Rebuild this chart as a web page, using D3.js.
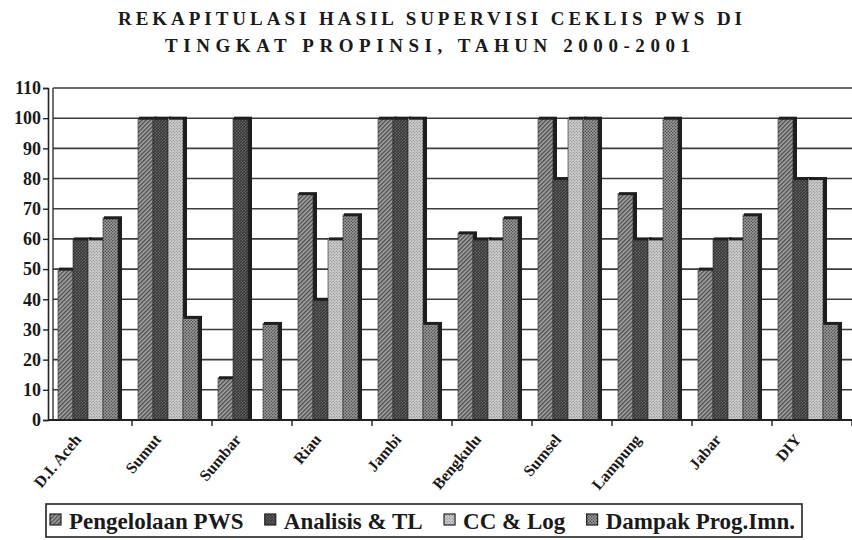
<!DOCTYPE html>
<html>
<head>
<meta charset="utf-8">
<script src="https://cdn.jsdelivr.net/npm/d3@7"></script>
<style>
  body { margin: 0; background: #fff; }
  svg { display: block; }
  text { font-family: "Liberation Serif", "DejaVu Serif", serif; font-weight: bold; fill: #1a1a1a; }
</style>
</head>
<body>
<div id="chart"></div>
<script>
// data
var categories = ["D.I. Aceh", "Sumut", "Sumbar", "Riau", "Jambi", "Bengkulu", "Sumsel", "Lampung", "Jabar", "DIY"];
var seriesNames = ["Pengelolaan PWS", "Analisis & TL", "CC & Log", "Dampak Prog.Imn."];
var pws      = [50, 100, 14, 75, 100, 62, 100, 75, 50, 100];
var analisis = [60, 100, 100, 40, 100, 60, 80, 60, 60, 80];
var ccLog    = [60, 100, 0, 60, 100, 60, 100, 60, 60, 80];
var dampak   = [67, 34, 32, 68, 32, 67, 100, 100, 68, 32];
var yTicks = [0, 10, 20, 30, 40, 50, 60, 70, 80, 90, 100, 110];
var titleLines = ["REKAPITULASI HASIL SUPERVISI CEKLIS PWS DI", "TINGKAT PROPINSI, TAHUN 2000-2001"];

var series = [pws, analisis, ccLog, dampak];

var W = 852, H = 540;
var svg = d3.select("#chart").append("svg")
  .attr("width", W).attr("height", H);

// fill patterns (grey scan look)
var defs = svg.append("defs");
function dotPattern(id, bg, dot, size, r) {
  var p = defs.append("pattern").attr("id", id)
    .attr("patternUnits", "userSpaceOnUse")
    .attr("width", size).attr("height", size);
  p.append("rect").attr("width", size).attr("height", size).attr("fill", bg);
  p.append("circle").attr("cx", size / 4).attr("cy", size / 4).attr("r", r).attr("fill", dot);
  p.append("circle").attr("cx", size * 3 / 4).attr("cy", size * 3 / 4).attr("r", r).attr("fill", dot);
}
// hatch for PWS
var hp = defs.append("pattern").attr("id", "pat0")
  .attr("patternUnits", "userSpaceOnUse").attr("width", 3).attr("height", 3)
  .attr("patternTransform", "rotate(45)");
hp.append("rect").attr("width", 3).attr("height", 3).attr("fill", "#a8a8a8");
hp.append("rect").attr("width", 1.4).attr("height", 3).attr("fill", "#4a4a4a");
dotPattern("pat1", "#333", "#7a7a7a", 3, 0.7);
dotPattern("pat2", "#cfcfcf", "#707070", 3, 0.6);
dotPattern("pat3", "#a0a0a0", "#3c3c3c", 3, 0.75);

var margin = { top: 88, left: 53 };
var plotRight = W;
var y0 = 420;

var x = d3.scaleBand()
  .domain(categories)
  .range([50, 850])
  .paddingInner(0.2)
  .paddingOuter(0.1);

var y = d3.scaleLinear()
  .domain([0, 110])
  .range([y0, margin.top]);

var depth = 4;
var slot = (x.bandwidth() - depth) / 4;
var xs = d3.scaleBand().domain(d3.range(4)).range([0, slot * 4]);

// gridlines
svg.append("g")
  .selectAll("line")
  .data(yTicks)
  .join("line")
  .attr("x1", margin.left).attr("x2", plotRight)
  .attr("y1", function(d) { return y(d); })
  .attr("y2", function(d) { return y(d); })
  .attr("stroke", "#3c3c3c")
  .attr("stroke-width", 1.6);

// plot frame left
svg.append("line")
  .attr("x1", margin.left).attr("x2", margin.left)
  .attr("y1", y(110)).attr("y2", y0)
  .attr("stroke", "#333").attr("stroke-width", 1.4);

// y axis
var yAxis = svg.append("g")
  .attr("transform", "translate(48,0)")
  .call(d3.axisLeft(y).tickValues(yTicks).tickSize(5).tickPadding(2));
yAxis.attr("font-family", "'Liberation Serif', serif").attr("font-size", 18);
yAxis.select(".domain").attr("stroke", "#222").attr("stroke-width", 1.6);
yAxis.selectAll(".tick line").attr("stroke", "#222").attr("stroke-width", 1.4);
yAxis.selectAll("text")
  .attr("font-family", "'Liberation Serif', serif")
  .attr("font-weight", "bold")
  .style("font-size", "18px")
  .attr("fill", "#1a1a1a");

// bars
var groups = svg.append("g")
  .selectAll("g")
  .data(categories)
  .join("g")
  .attr("transform", function(d) { return "translate(" + x(d) + ",0)"; });

groups.each(function(cat, ci) {
  var g = d3.select(this);
  series.forEach(function(vals, si) {
    var v = vals[ci];
    if (v <= 0) return;
    var bx = xs(si), by = y(v), bh = y0 - by;
    // side (depth)
    g.append("rect")
      .attr("x", bx + slot).attr("y", by)
      .attr("width", depth).attr("height", bh)
      .attr("fill", "#1e1e1e");
    // face
    g.append("rect")
      .attr("x", bx).attr("y", by)
      .attr("width", slot).attr("height", bh)
      .attr("fill", "url(#pat" + si + ")")
      .attr("stroke", "#2a2a2a").attr("stroke-width", 0.6);
    // top cap
    g.append("rect")
      .attr("x", bx + 1).attr("y", by - 1.5)
      .attr("width", slot + depth - 1).attr("height", 3)
      .attr("fill", "#1e1e1e");
  });
});

// x axis baseline and ticks at group boundaries
svg.append("line")
  .attr("x1", 48).attr("x2", plotRight)
  .attr("y1", y0).attr("y2", y0)
  .attr("stroke", "#222").attr("stroke-width", 1.8);
svg.append("g")
  .selectAll("line")
  .data(categories)
  .join("line")
  .attr("x1", function(d) { return x(d) + x.step() - x.step() * 0.1 + 2; })
  .attr("x2", function(d) { return x(d) + x.step() - x.step() * 0.1 + 2; })
  .attr("y1", y0).attr("y2", y0 + 6)
  .attr("stroke", "#222").attr("stroke-width", 1.4);

// category labels
svg.append("g")
  .selectAll("text")
  .data(categories)
  .join("text")
  .attr("transform", function(d) {
    return "translate(" + (x(d) + x.bandwidth() / 2 - 8) + "," + 440 + ") rotate(-50)";
  })
  .attr("text-anchor", "end")
  .style("font-size", "16px")
  .text(function(d) { return d; });

// title
svg.append("text")
  .attr("x", 118).attr("y", 25)
  .attr("textLength", 624).attr("lengthAdjust", "spacing")
  .style("font-size", "19px")
  .text(titleLines[0]);
svg.append("text")
  .attr("x", 165).attr("y", 52)
  .attr("textLength", 525).attr("lengthAdjust", "spacing")
  .style("font-size", "19px")
  .text(titleLines[1]);

// legend
var legend = svg.append("g");
legend.append("rect")
  .attr("x", 46).attr("y", 504)
  .attr("width", 756).attr("height", 33)
  .attr("fill", "#fff")
  .attr("stroke", "#222").attr("stroke-width", 1.6);

var items = seriesNames.map(function(name, i) {
  var t = legend.append("text")
    .attr("y", 529)
    .style("font-size", "23px")
    .text(name);
  return { t: t, w: t.node().getComputedTextLength(), i: i };
});
var symW = 11, symGap = 8;
var startX = 50, endX = 795;
var used = d3.sum(items, function(d) { return d.w + symW + symGap; });
var gap = (endX - startX - used) / (items.length - 1);
var lx = startX;
items.forEach(function(d) {
  legend.append("rect")
    .attr("x", lx).attr("y", 514)
    .attr("width", symW).attr("height", symW)
    .attr("fill", "url(#pat" + d.i + ")")
    .attr("stroke", "#222").attr("stroke-width", 1.2);
  d.t.attr("x", lx + symW + symGap);
  lx += symW + symGap + d.w + gap;
});
</script>
</body>
</html>
